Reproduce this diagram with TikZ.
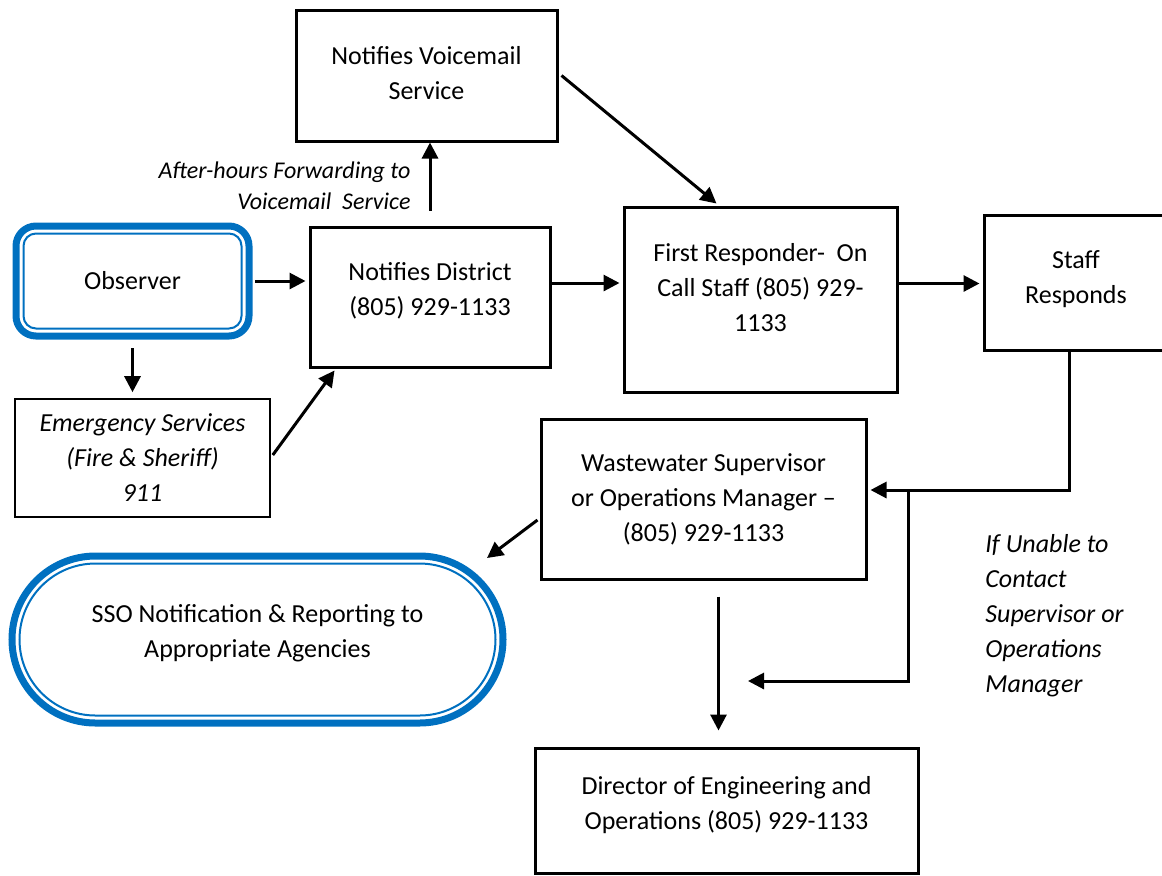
\documentclass[tikz,border=0pt]{standalone}
\usepackage{fontspec}
\setmainfont{Carlito}
\usepackage{tikz}
\usepackage{xcolor}
\usetikzlibrary{arrows.meta}

\definecolor{wordblue}{RGB}{0,112,192}
\newcommand{\boxfont}{\fontsize{13}{17.5}\selectfont}
\newcommand{\smallnote}{\fontsize{12}{15.5}\selectfont}

\tikzset{
  box/.style={draw, line width=1.5pt, align=center, inner sep=0pt, font=\boxfont},
  thinbox/.style={draw, line width=0.8pt, align=center, inner sep=0pt, font=\boxfont\itshape},
  bluebox/.style={draw=wordblue, line width=3.5pt, outer sep=0pt, align=center, inner sep=0pt, font=\boxfont},
  innerline/.style={draw=wordblue, line width=1pt},
  lift/.style={text depth=#1},
  arr/.style={line width=1.5pt, -{Triangle[length=8pt,width=8pt]}},
  note/.style={font=\boxfont\itshape, inner sep=0pt}
}

\begin{document}
\begin{tikzpicture}[x=0.5pt, y=-0.5pt]
\clip (0,0) rectangle (1162,875);

% boxes
\node[bluebox, rounded corners=10pt, minimum width=116.5pt, minimum height=55pt] (obs) at (132.5,281) {Observer};
\draw[innerline, rounded corners=6.25pt] ([xshift=3.75pt,yshift=-3.75pt]obs.north west) rectangle ([xshift=-3.75pt,yshift=3.75pt]obs.south east);

\node[box, lift=3pt, minimum width=130.5pt, minimum height=65.5pt] (vm) at (426.5,75.5) {Notifies Voicemail\\Service};
\node[box, lift=8.2pt, minimum width=120pt, minimum height=70pt] (dist) at (430,297) {Notifies District\\(805) 929-1133};
\node[box, lift=12pt, minimum width=136.5pt, minimum height=92.5pt] (fr) at (760.5,299.5) {First Responder-\ \ On\\Call Staff (805) 929-\\1133};
\node[box, lift=5.2pt, minimum width=92pt, minimum height=67.5pt] (staff) at (1076,282.5) {Staff\\Responds};
\node[thinbox, minimum width=127.5pt, minimum height=59pt] (emer) at (142.5,458) {Emergency Services\\(Fire \& Sheriff)\\911};
\node[box, minimum width=162.5pt, minimum height=80pt] (ww) at (703.5,499) {Wastewater Supervisor\\or Operations Manager --\\(805) 929-1133};
\node[box, lift=7.2pt, minimum width=191.5pt, minimum height=62.5pt] (dir) at (726.5,810.5) {Director of Engineering and\\Operations (805) 929-1133};

\node[bluebox, lift=8.2pt, rounded corners=41.75pt, minimum width=245.5pt, minimum height=83.5pt] (sso) at (257.5,639.5) {SSO Notification \& Reporting to\\Appropriate Agencies};
\draw[innerline, rounded corners=38pt] ([xshift=3.75pt,yshift=-3.75pt]sso.north west) rectangle ([xshift=-3.75pt,yshift=3.75pt]sso.south east);

% top row
\draw[arr, shorten <=3pt, shorten >=1.5pt] (obs.east) -- (obs.east -| dist.west);
\draw[arr, shorten <=7.5pt] (dist.north) -- (dist.north |- vm.south)
  node[note, font=\smallnote\itshape, align=right, pos=0.48, left=9pt] (fwd) {After-hours Forwarding to\\Voicemail\ \ Service};
\draw[arr] ([xshift=1.5pt]vm.east) -- ([xshift=47pt,yshift=1pt]fr.north west);
\draw[arr, shorten >=1.5pt] ([yshift=7pt]dist.east) -- ([yshift=7pt]dist.east -| fr.west);
\draw[arr, shorten >=1.5pt] ([yshift=8pt]fr.east) -- ([yshift=8pt]fr.east -| staff.west);

% emergency services
\draw[arr, shorten <=6pt, shorten >=3pt] (obs.south) -- (obs.south |- emer.north);
\draw[arr] ([xshift=1pt,yshift=1.5pt]emer.east) -- ([xshift=13pt,yshift=-1pt]dist.south west);

% staff responds to supervisor
\draw[arr, shorten >=1.5pt] ([xshift=-3.5pt]staff.south) |- ([yshift=4.5pt]ww.east);
\coordinate (split) at (908,490);
\coordinate (esc) at (748,681);
\draw[arr] (split) |- (esc);
\node[note, anchor=west, align=left] (unable) at (985,615.5) {If Unable to\\Contact\\Supervisor or\\Operations\\Manager};

% supervisor out
\draw[arr] ([xshift=-1pt,yshift=-10.5pt]ww.west) -- ([xshift=-8pt,yshift=-1pt]sso.north east);
\draw[arr, shorten <=8pt, shorten >=8pt] ([xshift=7.5pt]ww.south) -- ([xshift=7.5pt]ww.south |- dir.north);
\end{tikzpicture}
\end{document}
